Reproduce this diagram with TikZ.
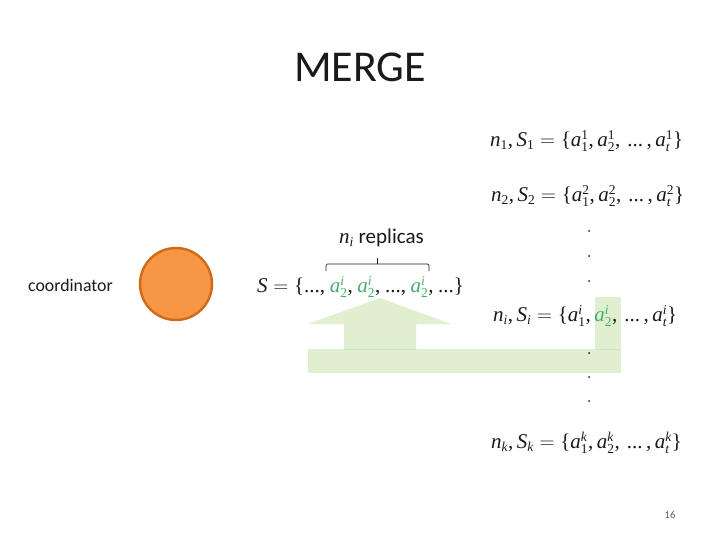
\documentclass[tikz,border=0pt]{standalone}
\usepackage{fontspec}
\setmainfont{Carlito}
\newfontfamily\mfont[AutoFakeBold=0.6]{Liberation Serif}
\definecolor{pale}{HTML}{DFEFCF}
\definecolor{seam}{HTML}{CFE3BC}
\definecolor{grn}{HTML}{45B06C}
\definecolor{orangefill}{HTML}{F79646}
\definecolor{orangeline}{HTML}{D26A14}
\definecolor{ink}{HTML}{1A1A1A}
\newcommand{\scr}{\fontsize{13.5}{14}\selectfont\mfont}
% variable with subscript and superscript, set in the text face
\newcommand{\vv}[3]{\mbox{\mfont\itshape #1}_{\mbox{\scr #2}}^{\mbox{\scr #3}}}
\newcommand{\gv}[3]{\textcolor{grn}{\vv{#1}{#2}{#3}}}
\newcommand{\sv}[2]{\mbox{\mfont\itshape #1}_{\mbox{\scr #2}}}
\newcommand{\tm}[1]{\mbox{\mfont #1}}
\newcommand{\dts}{\tm{\,...\,}}
\newcommand{\cm}{\tm{,\,}}
\newcommand{\dt}{\tm{...}}
\newcommand{\cs}{\tm{,}\kern4.6pt}
\tikzset{
  formula/.style={anchor=west,inner sep=0pt,text=ink,font=\fontsize{21}{24}\selectfont},
  dotmark/.style={circle,fill=ink,inner sep=0pt,minimum size=2pt},
  bandshape/.style={fill=pale,draw=none},
  plainlabel/.style={inner sep=0pt,text=ink}
}
\begin{document}
\begin{tikzpicture}[x=1pt,y=-1pt]
\useasboundingbox (0,0) rectangle (720,540);
\fill[white] (0,0) rectangle (720,540);
% green arrow
\path[bandshape] (308,349) rectangle (621,373);
\path[bandshape] (595,297) rectangle (621,349);
\path[bandshape] (344,349) -- (344,324) -- (308,324) -- (380,298) -- (451,324) -- (416,324) -- (416,349) -- cycle;
\draw[seam,line width=0.5pt] (344,349) -- (416,349) (595,349) -- (621,349);
\node[plainlabel,font=\fontsize{44}{48}\selectfont] (title) at (360,67) {MERGE};
\node[plainlabel,font=\fontsize{17.8}{20}\selectfont] (coord) at (70.5,285) {coordinator};
\node[circle,draw=orangeline,fill=orangefill,line width=2.4pt,minimum size=72pt,inner sep=0pt] (circ) at (176,284) {};
\node[formula] (f1) at (490,141) {$\sv{n}{1}\cm\sv{S}{1}=\tm{\{}\vv{a}{1}{1}\cm\vv{a}{2}{1}\cm\dts\cm\vv{a}{\itshape t}{1}\tm{\}}$};
\node[formula] (f2) at (491,196) {$\sv{n}{2}\cm\sv{S}{2}=\tm{\{}\vv{a}{1}{2}\cm\vv{a}{2}{2}\cm\dts\cm\vv{a}{\itshape t}{2}\tm{\}}$};
\node[formula] (fi) at (493,316) {$\sv{n}{\itshape i}\cm\sv{S}{\itshape i}=\tm{\{}\vv{a}{1}{\itshape i}\cm\gv{a}{2}{\itshape i}\cm\dts\cm\vv{a}{\itshape t}{\itshape i}\tm{\}}$};
\node[formula] (fk) at (491,443) {$\sv{n}{\itshape k}\cm\sv{S}{\itshape k}=\tm{\{}\vv{a}{1}{\itshape k}\cm\vv{a}{2}{\itshape k}\cm\dts\cm\vv{a}{\itshape t}{\itshape k}\tm{\}}$};
\node[formula] (fs) at (257,287) {$\mbox{\mfont\itshape S}=\tm{\{}\dt\cs\gv{a}{2}{\itshape i}\cs\gv{a}{2}{\itshape i}\cs\dt\cs\gv{a}{2}{\itshape i}\cs\dt\tm{\}}$};
\node[plainlabel,font=\fontsize{21}{24}\selectfont] (rep) at (381.5,238) {$\sv{n}{\itshape i}$ replicas};
\foreach \n/\y in {d1/231,d2/256,d3/281,d4/353,d5/377,d6/401}
  \node[dotmark] (\n) at (589,\y) {};
\coordinate (bl) at (326,271);
\coordinate (br) at (429,271);
\coordinate (bt) at (377,264);
\coordinate (tip) at (377,258);
\draw[ink,line width=0.7pt,rounded corners=1.5pt] (bl) -- (326,264) -- (br |- bt) -- (br);
\draw[ink,line width=0.7pt] (bt) -- (tip);
\node[plainlabel,font=\fontsize{10.5}{12}\selectfont,text=black!65] (pg) at (670,515) {16};
\end{tikzpicture}
\end{document}
